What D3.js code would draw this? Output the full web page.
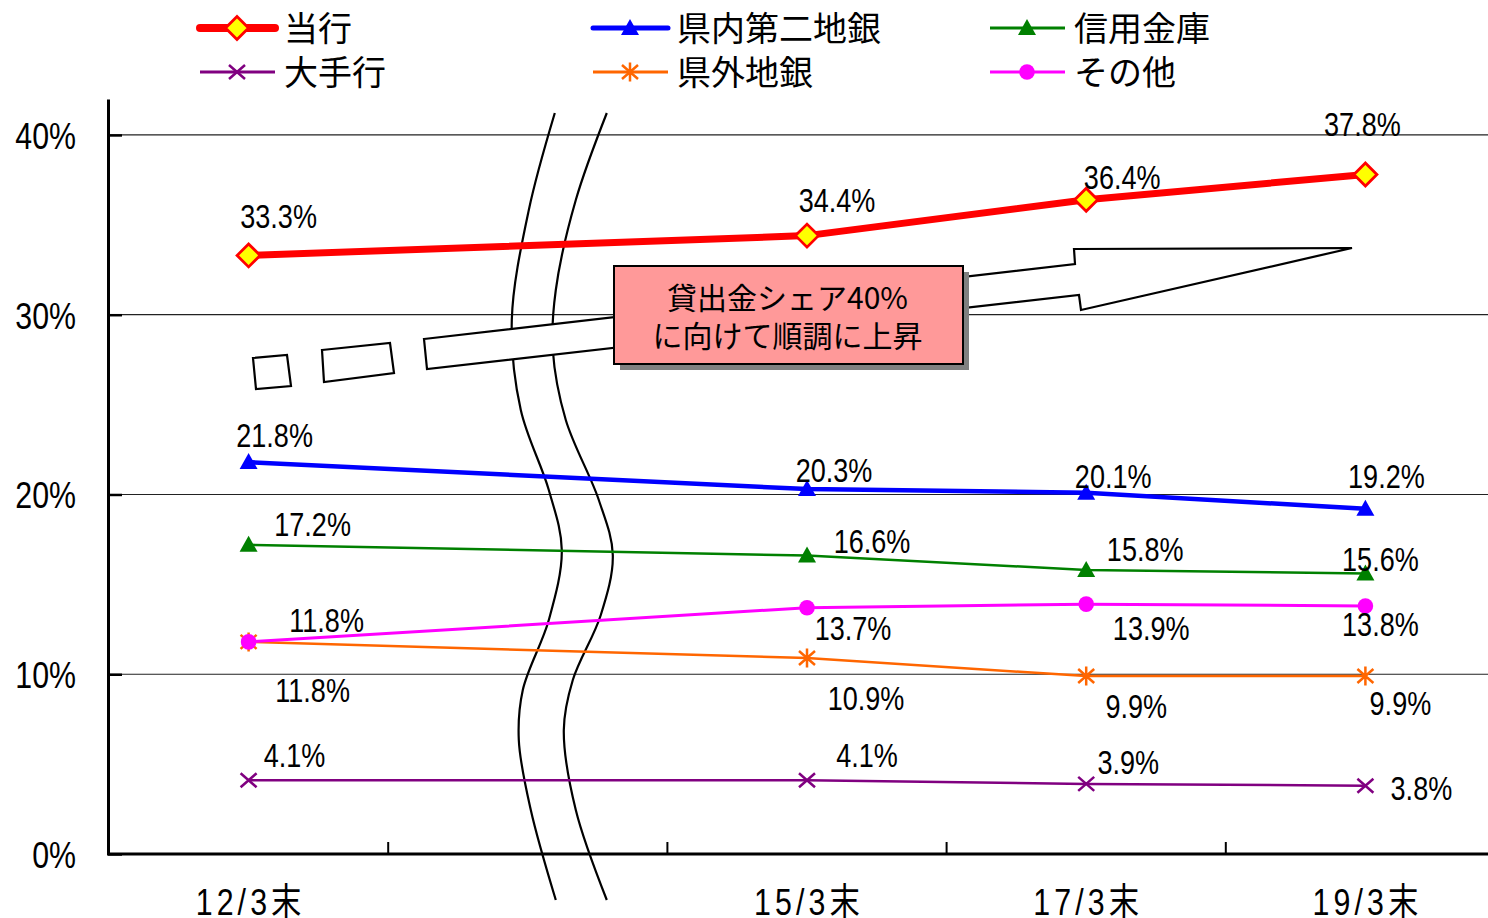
<!DOCTYPE html>
<meta charset="utf-8">
<style>
body { margin: 0; background: #fff; }
svg { display: block; }
.num { font: 33px "Liberation Sans", Arial, "Noto Sans CJK JP", sans-serif; fill: #000; }
.legend text { font: 34px "Noto Sans CJK JP", sans-serif; fill: #000; }
.callout { font: 30px "Noto Sans CJK JP", sans-serif; fill: #000; }
</style>
<body>
<script src="https://cdn.jsdelivr.net/npm/d3@7/dist/d3.min.js"></script>
<script>

// data
const categories = ["12/3末", "", "15/3末", "17/3末", "19/3末"];
const seriesNames = ["当行", "県内第二地銀", "信用金庫", "大手行", "県外地銀", "その他"];
const touko       = [33.3, null, 34.4, 36.4, 37.8];
const kennaiDaini = [21.8, null, 20.3, 20.1, 19.2];
const shinkin     = [17.2, null, 16.6, 15.8, 15.6];
const oote        = [4.1,  null, 4.1,  3.9,  3.8];
const kengai      = [11.8, null, 10.9, 9.9,  9.9];
const sonota      = [11.8, null, 13.7, 13.9, 13.8];
const yTicks = [0, 10, 20, 30, 40];
const calloutText = ["貸出金シェア40%", "に向けて順調に上昇"];

const values = [touko, kennaiDaini, shinkin, oote, kengai, sonota];

// look of each series (same order as seriesNames)
const styles = [
  {color: "#ff0000", width: 7,   legendWidth: 8, marker: "diamond"},
  {color: "#0000ff", width: 4.5, legendWidth: 5, marker: "triangle"},
  {color: "#008000", width: 2.5, legendWidth: 3, marker: "triangle"},
  {color: "#800080", width: 2.5, legendWidth: 3, marker: "cross"},
  {color: "#ff6600", width: 2.5, legendWidth: 3, marker: "star"},
  {color: "#ff00ff", width: 3,   legendWidth: 3, marker: "circle"}
];

// label offsets from each point (dx to text centre, dy to baseline)
const labelOffsets = [
  [[30, -27], null, [30, -24], [36, -11], [-3, -39]],
  [[26, -15], null, [27, -7],  [27, -5],  [21, -21]],
  [[64, -9],  null, [65, -3],  [59, -9],  [15, -3]],
  [[46, -13], null, [60, -13], [42, -10], [56, 14]],
  [[64, 60],  null, [59, 52],  [50, 42],  [35, 39]],
  [[78, -10], null, [46, 32],  [65, 36],  [15, 30]]
];

const width = 1488, height = 918;

const svg = d3.select("body").append("svg")
    .attr("width", width)
    .attr("height", height);

let x = d3.scaleBand()
    .domain(categories)
    .range([109, 1505]);

let y = d3.scaleLinear()
    .domain([0, 42])
    .range([854, 99]);

const cx = d => x(d) + x.bandwidth() / 2;

// grid lines
svg.append("g").selectAll("line")
  .data(yTicks.filter(d => d > 0))
  .enter().append("line")
    .attr("x1", 108).attr("x2", width)
    .attr("y1", d => y(d)).attr("y2", d => y(d))
    .attr("stroke", "#222")
    .attr("stroke-width", 1.2);

// y axis, ticks pointing into the plot
let yAxis = svg.append("g")
    .attr("transform", "translate(108,0)")
    .call(d3.axisLeft(y).tickValues(yTicks).tickSizeInner(-14).tickSizeOuter(0).tickFormat(""));
yAxis.select(".domain").attr("stroke-width", 3);
yAxis.selectAll(".tick line").attr("stroke-width", 2.5);

svg.append("g").selectAll("g")
  .data(yTicks)
  .enter().append("g")
    .attr("transform", d => "translate(76," + (y(d) + 14) + ")scale(0.82,1)")
  .append("text")
    .attr("class", "num")
    .style("font-size", "37px")
    .attr("text-anchor", "end")
    .text(d => d + "%");

// x axis
svg.append("line")
    .attr("x1", 107).attr("x2", width)
    .attr("y1", y(0)).attr("y2", y(0))
    .attr("stroke", "#000").attr("stroke-width", 3);

svg.append("g").selectAll("line")
  .data(d3.range(1, categories.length))
  .enter().append("line")
    .attr("x1", i => x.range()[0] + i * x.step())
    .attr("x2", i => x.range()[0] + i * x.step())
    .attr("y1", y(0)).attr("y2", y(0) - 12)
    .attr("stroke", "#000").attr("stroke-width", 2);

svg.append("g").selectAll("g")
  .data(categories.filter(d => d))
  .enter().append("g")
    .attr("transform", d => "translate(" + (cx(d) + 2) + ",915)scale(0.82,1)")
  .append("text")
    .attr("class", "num")
    .style("font-size", "37px")
    .style("letter-spacing", "5px")
    .attr("text-anchor", "middle")
    .text(d => d);

// axis break: two wavy lines in the empty slot
const bx = cx(categories[1]);
const breakLeft = [[27,113],[1,210],[-16,320],[-7,410],[21,490],[34,550],[21,620],[-5,690],[-9,740],[3,810],[28,900]];
const breakRight = [[79,113],[48,200],[28,290],[25,350],[38,420],[71,500],[85,555],[73,615],[45,680],[36,730],[48,810],[79,900]];
const wave = d3.line().x(d => bx + d[0]).y(d => d[1]).curve(d3.curveCatmullRom);
[breakLeft, breakRight].forEach(function(pts) {
  svg.append("path")
      .attr("d", wave(pts))
      .attr("fill", "none")
      .attr("stroke", "#000")
      .attr("stroke-width", 2.2);
});

// big hollow arrow with dashes
const arrowShapes = [
  [[253,358],[287,355],[291,386],[256,389]],
  [[322,350],[390,343],[394,373],[324,382]],
  [[424,339],[1075,264],[1074,249],[1352,248],[1081,310],[1079,295],[427,369]]
];
svg.append("g").selectAll("polygon")
  .data(arrowShapes)
  .enter().append("polygon")
    .attr("points", d => d.map(p => p.join(",")).join(" "))
    .attr("fill", "#fff")
    .attr("stroke", "#000")
    .attr("stroke-width", 2.2)
    .attr("stroke-linejoin", "miter");

// callout box
const box = {x: 614, y: 266, w: 349, h: 98};
svg.append("rect")
    .attr("x", box.x + 6).attr("y", box.y + 6)
    .attr("width", box.w).attr("height", box.h)
    .attr("fill", "#808080");
svg.append("rect")
    .attr("x", box.x).attr("y", box.y)
    .attr("width", box.w).attr("height", box.h)
    .attr("fill", "#ff9999")
    .attr("stroke", "#000")
    .attr("stroke-width", 2);
svg.append("g").selectAll("text")
  .data(calloutText)
  .enter().append("text")
    .attr("class", "callout")
    .attr("x", box.x + box.w / 2 - 1)
    .attr("y", (d, i) => box.y + 43 + i * 38)
    .attr("text-anchor", "middle")
    .text(d => d);

// markers
function drawMarker(g, type, color) {
  if (type === "diamond") {
    g.append("path").attr("d", "M0,-11.5L11.5,0L0,11.5L-11.5,0Z")
      .attr("fill", "#ffff00").attr("stroke", color).attr("stroke-width", 2.8);
  } else if (type === "triangle") {
    g.append("path").attr("d", "M0,-9L9,7L-9,7Z").attr("fill", color);
  } else if (type === "circle") {
    g.append("circle").attr("r", 7.8).attr("fill", color);
  } else if (type === "cross") {
    g.append("path").attr("d", "M-8,-7L8,7M-8,7L8,-7")
      .attr("stroke", color).attr("stroke-width", 2.5).attr("fill", "none");
  } else if (type === "star") {
    g.append("path").attr("d", "M0,-9.5L0,9.5M-8,-7L8,7M-8,7L8,-7")
      .attr("stroke", color).attr("stroke-width", 2.5).attr("fill", "none");
  }
}

let line = d3.line()
    .defined(d => d.v !== null)
    .x(d => cx(d.c))
    .y(d => y(d.v));

const fmt = d3.format(".1f");

values.forEach(function(vals, s) {
  const pts = vals.map((v, i) => ({c: categories[i], v: v, i: i})).filter(d => d.v !== null);
  const st = styles[s];

  svg.append("path")
      .datum(pts)
      .attr("d", line)
      .attr("fill", "none")
      .attr("stroke", st.color)
      .attr("stroke-width", st.width)
      .attr("stroke-linejoin", "round");

  pts.forEach(function(d) {
    let g = svg.append("g").attr("transform", "translate(" + cx(d.c) + "," + y(d.v) + ")");
    drawMarker(g, st.marker, st.color);
  });

  pts.forEach(function(d) {
    const off = labelOffsets[s][d.i];
    svg.append("g")
        .attr("transform", "translate(" + (cx(d.c) + off[0]) + "," + (y(d.v) + off[1]) + ")scale(0.82,1)")
      .append("text")
        .attr("class", "num")
        .attr("text-anchor", "middle")
        .text(fmt(d.v) + "%");
  });
});

// legend, three columns by two rows
const legendCols = [200, 593, 990];
const legendRows = [28, 72];
let legend = svg.append("g").attr("class", "legend");
seriesNames.forEach(function(name, i) {
  const lx = legendCols[i % 3], ly = legendRows[Math.floor(i / 3)];
  const st = styles[i];
  legend.append("line")
      .attr("x1", lx).attr("x2", lx + 75)
      .attr("y1", ly).attr("y2", ly)
      .attr("stroke", st.color)
      .attr("stroke-width", st.legendWidth)
      .attr("stroke-linecap", st.legendWidth > 4 ? "round" : "butt");
  drawMarker(legend.append("g").attr("transform", "translate(" + (lx + 37) + "," + ly + ")"), st.marker, st.color);
  legend.append("text")
      .attr("x", lx + 84)
      .attr("y", ly + 13)
      .text(name);
});

</script>
</body>
